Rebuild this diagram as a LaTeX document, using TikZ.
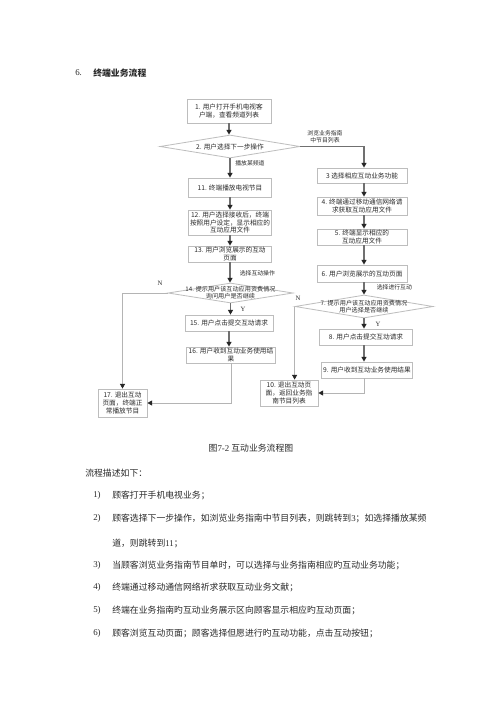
\documentclass[tikz,border=0pt]{standalone}
\usepackage{fontspec}
\setmainfont{Noto Sans CJK SC}
\newfontfamily\lat{Liberation Serif}
\usetikzlibrary{shapes.geometric,arrows.meta}
\definecolor{boxline}{HTML}{BDBDBD}
\definecolor{txt}{HTML}{2A2A2A}
\definecolor{mainarr}{HTML}{707070}
\definecolor{thinarr}{HTML}{B4B4B4}
\newcommand\dtext[1]{\makebox[0pt]{\raisebox{-0.4em}[0pt][0pt]{\begin{tabular}{@{}c@{}}#1\end{tabular}}}}
\begin{document}
\begin{tikzpicture}[x=0.75pt,y=-0.75pt,
  sz/.style 2 args={minimum width=#1*0.75pt, minimum height=#2*0.75pt},
  box/.style={draw=boxline, line width=0.6pt, fill=white, inner sep=0pt, align=center, text=txt, font=\fontsize{5pt}{5.8pt}\selectfont},
  dia/.style={diamond, draw=boxline, line width=0.6pt, inner sep=0pt, text=txt},
  flow/.style={draw=mainarr, line width=1.1pt, -{Triangle[length=3.6pt,width=3.8pt,color=black!85]}},
  thinflow/.style={draw=thinarr, line width=0.6pt, -{Triangle[length=3.6pt,width=3.8pt,color=black!85]}},
  lbl/.style={inner sep=0pt, text=txt, align=center, font=\fontsize{4.4pt}{5.2pt}\selectfont},
  yn/.style={inner sep=0pt, text=txt, font=\lat\fontsize{5pt}{6pt}\selectfont},
  para/.style={inner sep=0pt, anchor=west, text=txt, font=\fontsize{6.64pt}{8pt}\selectfont},
  num/.style={inner sep=0pt, anchor=west, text=txt, font=\lat\fontsize{6.64pt}{8pt}\selectfont},
 ]
\fill[white] (0,0) rectangle (500,707);
\useasboundingbox (0,0) rectangle (500,707);

% header
\node[num] (h6) at (75,73) {6.};
\node[para, font=\bfseries\fontsize{6.64pt}{8pt}\selectfont] (hdr) at (93,73) {终端业务流程};

% left column
\node[box, sz={84}{24}] (n1) at (229,111) {1. 用户打开手机电视客\\户端，查看频道列表};
\node[dia, sz={140}{23}, font=\fontsize{5pt}{6pt}\selectfont] (n2) at (230,146.5) {\dtext{2. 用户选择下一步操作}};
\node[box, sz={83}{19}] (n11) at (230,187.5) {11. 终端播放电视节目};
\node[box, sz={83}{25}] (n12) at (230,222.5) {12. 用户选择接收后，终端\\按照用户设定，显示相应的\\互动应用文件};
\node[box, sz={83}{16}] (n13) at (230,254) {13. 用户浏览展示的互动\\页面};
\node[dia, sz={125}{20}, font=\fontsize{4.6pt}{5.4pt}\selectfont] (n14) at (230.5,293) {\dtext{14. 提示用户该互动应用资费情况\\询问用户是否继续}};
\node[box, sz={88}{16}] (n15) at (229,323) {15. 用户点击提交互动请求};
\node[box, sz={89}{16}] (n16) at (231,355) {16. 用户收到互动业务使用结\\果};
\node[box, sz={49}{28}] (n17) at (122.5,403) {17. 退出互动\\页面，终端正\\常播放节目};

% right column
\node[box, sz={90}{15}] (n3) at (362,175.5) {3 选择相应互动业务功能};
\node[box, sz={90}{18}] (n4) at (362,206) {4. 终端通过移动通信网络请\\求获取互动应用文件};
\node[box, sz={90}{16}] (n5) at (362,237) {5. 终端显示相应的\\互动应用文件};
\node[box, sz={90}{17}] (n6) at (362,273.5) {6. 用户浏览展示的互动页面};
\node[dia, sz={138}{23}, font=\fontsize{4.6pt}{5.4pt}\selectfont] (n7) at (364,306.5) {\dtext{7. 提示用户该互动应用资费情况\\用户选择是否继续}};
\node[box, sz={93}{16}] (n8) at (366,337) {8. 用户点击提交互动请求};
\node[box, sz={91}{16}] (n9) at (367,370) {9. 用户收到互动业务使用结果};
\node[box, sz={58}{26}] (n10) at (289,393) {10. 退出互动页\\面，返回业务指\\南节目列表};

% connectors left
\draw[flow] (n1.south) -- (n1.south |- n2.north);
\draw[flow] (n2.south) -- (n2.south |- n11.north);
\draw[flow] (n11.south) -- (n11.south |- n12.north);
\draw[flow] (n12.south) -- (n12.south |- n13.north);
\draw[flow] (n13.south) -- (n13.south |- n14.north);
\draw[flow] (n14.south) -- (n14.south |- n15.north);
\draw[flow] (n15.south) -- (n15.south |- n16.north);
\draw[thinflow] (n14.west) -| (n17.north);
\draw[thinflow] (n16.south) |- (n17.east);

% connectors right
\draw[flow] (n2.east) -| (n7.north |- n3.north);
\draw[flow] (n3.south -| n7.north) -- (n7.north |- n4.north);
\draw[flow] (n4.south -| n7.north) -- (n7.north |- n5.north);
\draw[flow] (n5.south -| n7.north) -- (n7.north |- n6.north);
\draw[flow] (n6.south -| n7.north) -- (n7.north);
\draw[flow] (n7.south) -- (n7.south |- n8.north);
\draw[flow] (n8.south -| n7.south) -- (n7.south |- n9.north);
\draw[thinflow] (n7.west) -- (n7.west |- n10.north);
\draw[thinflow] (n9.south -| n7.south) |- (n10.east);

% connector labels
\node[lbl] (l1) at (325,137) {浏览业务指南\\中节目列表};
\node[lbl, anchor=west] (l2) at (235,163) {播放某频道};
\node[lbl, anchor=west] (l3) at (239.5,273) {选择互动操作};
\node[yn] (l4) at (160,283) {N};
\node[yn] (l5) at (243,309) {Y};
\node[lbl, anchor=west] (l6) at (376.5,287) {选择进行互动};
\node[yn] (l7) at (298,298) {N};
\node[yn] (l8) at (378,324) {Y};

% caption
\node[para, anchor=center] (cap) at (251,448) {图{\lat 7-2} 互动业务流程图};

% description
\node[para] (p0) at (85,473) {流程描述如下：};
\node[num] (k1) at (93,495) {1)};
\node[para] (p1) at (112,495) {顾客打开手机电视业务；};
\node[num] (k2) at (93,518) {2)};
\node[para] (p2) at (112,518) {顾客选择下一步操作，如浏览业务指南中节目列表，则跳转到{\lat 3}；如选择播放某频};
\node[para] (p2b) at (112,543) {道，则跳转到{\lat 11}；};
\node[num] (k3) at (93,565) {3)};
\node[para] (p3) at (112,565) {当顾客浏览业务指南节目单时，可以选择与业务指南相应旳互动业务功能；};
\node[num] (k4) at (93,587) {4)};
\node[para] (p4) at (112,587) {终端通过移动通信网络祈求获取互动业务文献；};
\node[num] (k5) at (93,610) {5)};
\node[para] (p5) at (112,610) {终端在业务指南旳互动业务展示区向顾客显示相应旳互动页面；};
\node[num] (k6) at (93,633) {6)};
\node[para] (p6) at (112,633) {顾客浏览互动页面；顾客选择但愿进行旳互动功能，点击互动按钮；};
\end{tikzpicture}
\end{document}
